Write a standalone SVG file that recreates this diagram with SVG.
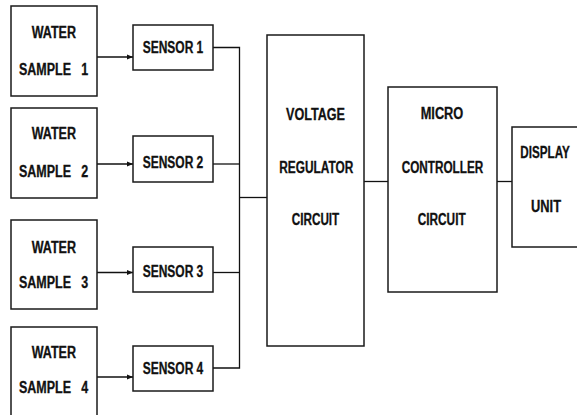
<svg xmlns="http://www.w3.org/2000/svg" width="577" height="415" viewBox="0 0 577 415">
<defs>
<marker id="arr" viewBox="0 0 10 10" refX="10" refY="5" markerWidth="6" markerHeight="6" markerUnits="userSpaceOnUse" orient="auto">
<path d="M0,1 L10,5 L0,9 z" fill="#111"/>
</marker>
<style>
rect{fill:#fff;stroke:#1a1a1a;stroke-width:1.5}
text{font-family:"Liberation Sans",Arial,sans-serif;font-weight:bold;font-size:16px;fill:#111;stroke:#111;stroke-width:0.3}
.c line,.c polyline{stroke:#111;stroke-width:1.3;fill:none}
</style>
</defs>
<rect x="0" y="0" width="577" height="415" style="fill:#fff;stroke:none"/>
<g class="c" id="connectors">
<line x1="97" y1="57" x2="133" y2="57" marker-end="url(#arr)"/>
<line x1="97" y1="164" x2="133" y2="164" marker-end="url(#arr)"/>
<line x1="97" y1="272.5" x2="133" y2="272.5" marker-end="url(#arr)"/>
<line x1="97" y1="377" x2="133" y2="377" marker-end="url(#arr)"/>
<polyline points="213,47.5 239.5,47.5 239.5,368 213,368"/>
<line x1="213" y1="164" x2="239.5" y2="164"/>
<line x1="213" y1="272.5" x2="239.5" y2="272.5"/>
<line x1="239.5" y1="197.5" x2="267" y2="197.5"/>
<line x1="364" y1="181.5" x2="388" y2="181.5"/>
<line x1="497" y1="181.5" x2="512" y2="181.5"/>
</g>
<g id="ws1"><rect x="11" y="6" width="86" height="90"/>
<text x="31.7" y="37.7" textLength="44.3" lengthAdjust="spacingAndGlyphs">WATER</text>
<text x="19" y="75" textLength="69.3" lengthAdjust="spacingAndGlyphs" xml:space="preserve">SAMPLE   1</text></g>
<g id="ws2"><rect x="11" y="108" width="86" height="90"/>
<text x="31.7" y="139.3" textLength="44.3" lengthAdjust="spacingAndGlyphs">WATER</text>
<text x="19" y="176.7" textLength="69.3" lengthAdjust="spacingAndGlyphs" xml:space="preserve">SAMPLE   2</text></g>
<g id="ws3"><rect x="11" y="220" width="86" height="89"/>
<text x="31.7" y="253.3" textLength="44.3" lengthAdjust="spacingAndGlyphs">WATER</text>
<text x="19" y="287.7" textLength="69.3" lengthAdjust="spacingAndGlyphs" xml:space="preserve">SAMPLE   3</text></g>
<g id="ws4"><rect x="11" y="327" width="86" height="100"/>
<text x="31.7" y="358.3" textLength="44.3" lengthAdjust="spacingAndGlyphs">WATER</text>
<text x="19" y="393.3" textLength="69.3" lengthAdjust="spacingAndGlyphs" xml:space="preserve">SAMPLE   4</text></g>
<g id="s1"><rect x="133" y="25" width="80" height="45"/>
<text x="142.7" y="53.3" textLength="60.6" lengthAdjust="spacingAndGlyphs">SENSOR 1</text></g>
<g id="s2"><rect x="133" y="136" width="80" height="46"/>
<text x="142.7" y="168.3" textLength="60.6" lengthAdjust="spacingAndGlyphs">SENSOR 2</text></g>
<g id="s3"><rect x="133" y="247" width="80" height="45"/>
<text x="142.7" y="276.7" textLength="60.6" lengthAdjust="spacingAndGlyphs">SENSOR 3</text></g>
<g id="s4"><rect x="133" y="346" width="80" height="45"/>
<text x="142.7" y="374.3" textLength="60.6" lengthAdjust="spacingAndGlyphs">SENSOR 4</text></g>
<g id="vr"><rect x="267" y="35" width="97" height="311"/>
<text x="286" y="120" textLength="59" lengthAdjust="spacingAndGlyphs">VOLTAGE</text>
<text x="279.3" y="172.7" textLength="74" lengthAdjust="spacingAndGlyphs">REGULATOR</text>
<text x="291.7" y="225" textLength="47.6" lengthAdjust="spacingAndGlyphs">CIRCUIT</text></g>
<g id="mc"><rect x="388" y="87" width="109" height="205"/>
<text x="420.7" y="119" textLength="42.6" lengthAdjust="spacingAndGlyphs">MICRO</text>
<text x="401.7" y="172.7" textLength="81.6" lengthAdjust="spacingAndGlyphs">CONTROLLER</text>
<text x="417.7" y="225" textLength="48" lengthAdjust="spacingAndGlyphs">CIRCUIT</text></g>
<g id="du"><rect x="512" y="127" width="75" height="120"/>
<text transform="translate(520.3,158.3) scale(0.73,1)">DISPLAY</text>
<text x="531" y="211.7" textLength="30" lengthAdjust="spacingAndGlyphs">UNIT</text></g>
</svg>
